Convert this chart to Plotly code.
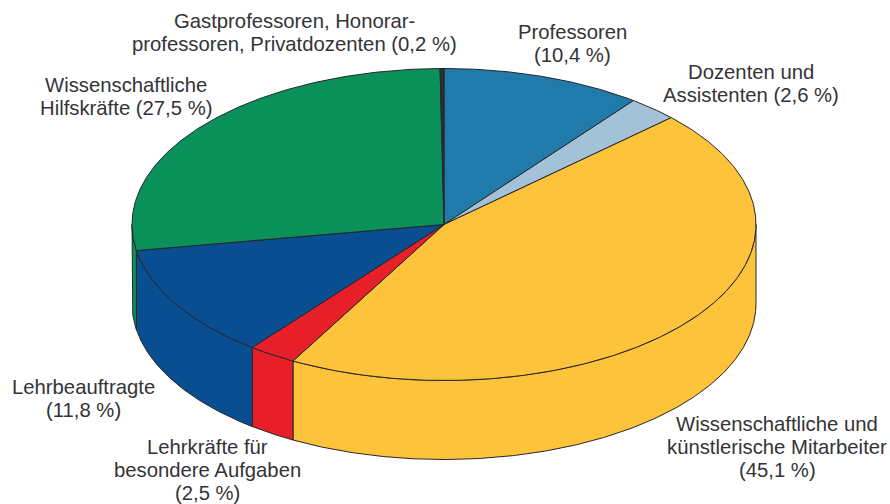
import numpy as np
import plotly.graph_objects as go

categories = ["Professoren", "Dozenten und Assistenten", "Wissenschaftliche und künstlerische Mitarbeiter",
              "Lehrkräfte für besondere Aufgaben", "Lehrbeauftragte", "Wissenschaftliche Hilfskräfte",
              "Gastprofessoren, Honorarprofessoren, Privatdozenten"]
values = [10.4, 2.6, 45.1, 2.5, 11.8, 27.5, 0.2]
colors = ["#217BAA", "#A3C2D8", "#FDC33A", "#E71F28", "#0A4E92", "#0A9159", "#2B2E33"]
label_lines = [
    ["Professoren", "(10,4 %)"],
    ["Dozenten und", "Assistenten (2,6 %)"],
    ["Wissenschaftliche und", "künstlerische Mitarbeiter", "(45,1 %)"],
    ["Lehrkräfte für", "besondere Aufgaben", "(2,5 %)"],
    ["Lehrbeauftragte", "(11,8 %)"],
    ["Wissenschaftliche", "Hilfskräfte (27,5 %)"],
    ["Gastprofessoren, Honorar-", "professoren, Privatdozenten (0,2 %)"],
]
label_pos = [(572, 43), (751, 83), (777, 447), (207, 470), (83, 398), (125.5, 96), (294.5, 32)]

CX, CY, RX, RY, DEPTH = 444, 224.5, 312, 156, 79
OUT = "#26262A"


def pt(deg, drop=0):
    t = np.radians(deg)
    return CX + RX * np.sin(t), CY - RY * np.cos(t) + drop


def arc(a, b, drop=0):
    n = max(2, int(abs(b - a) * 2) + 1)
    return pt(np.linspace(a, b, n), drop)


fig = go.Figure()
edges = np.concatenate([[0], np.cumsum(values)]) / sum(values) * 360

# side walls (front half only)
for a, b, c, name in zip(edges[:-1], edges[1:], colors, categories):
    lo, hi = max(a, 90), min(b, 270)
    if hi <= lo:
        continue
    x1, y1 = arc(lo, hi)
    x2, y2 = arc(hi, lo, DEPTH)
    fig.add_trace(go.Scatter(x=np.r_[x1, x2, x1[0]], y=np.r_[y1, y2, y1[0]], mode="lines", fill="toself",
                             fillcolor=c, line=dict(color=OUT, width=1), hoverinfo="text", text=name))

# top faces
for a, b, c, name in zip(edges[:-1], edges[1:], colors, categories):
    x1, y1 = arc(a, b)
    fig.add_trace(go.Scatter(x=np.r_[CX, x1, CX], y=np.r_[CY, y1, CY], mode="lines", fill="toself",
                             fillcolor=c, line=dict(color=OUT, width=1), hoverinfo="text", text=name))

LINE_STEP = 23
for lines, (x, y) in zip(label_lines, label_pos):
    for i, line in enumerate(lines):
        fig.add_annotation(x=x, y=y + (i - (len(lines) - 1) / 2) * LINE_STEP, text=line, showarrow=False,
                           xanchor="center", yanchor="middle", align="center",
                           font=dict(family="Liberation Sans", size=20.3, color="#333338"))

fig.update_layout(
    width=890, height=504, showlegend=False, paper_bgcolor="white", plot_bgcolor="white",
    margin=dict(l=0, r=0, t=0, b=0),
    xaxis=dict(range=[0, 890], visible=False, fixedrange=True),
    yaxis=dict(range=[504, 0], visible=False, fixedrange=True),
)
fig.write_html("out.html", config={"displayModeBar": False},
               post_script="document.body.style.margin='0';document.body.style.overflow='hidden';")
